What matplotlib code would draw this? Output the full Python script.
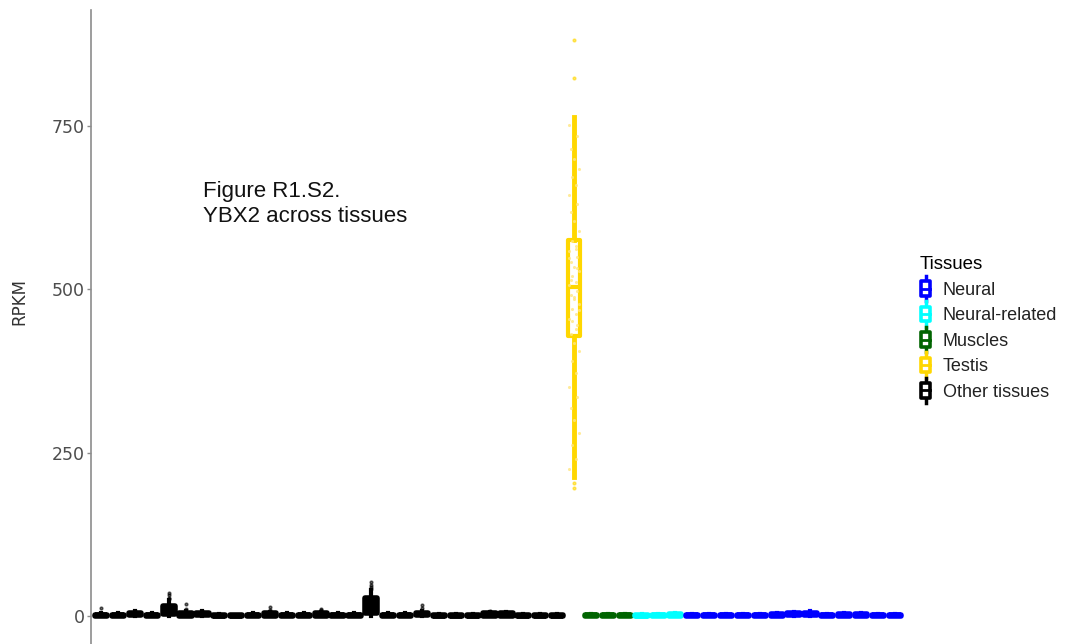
import numpy as np
import matplotlib.pyplot as plt
from matplotlib.legend_handler import HandlerBase
from matplotlib.lines import Line2D
from matplotlib.patches import Rectangle

# --- data (RPKM per tissue box) ---
group_names = ["Neural", "Neural-related", "Muscles", "Testis", "Other tissues"]
group_colors = ["#0000FF", "#00FFFF", "#006400", "#FFD700", "#000000"]

# order of boxes along x
groups = ["Other tissues"] * 28 + ["Testis"] + ["Muscles"] * 3 + ["Neural-related"] * 3 + ["Neural"] * 13

medians = [1, 1, 3, 1, 8, 2, 3, 0.5, 0, 1, 2, 1, 1, 2, 1, 1, 12, 1, 1, 3, 0.5, 0.5, 0.5, 2, 2, 0.5, 0.5, 0.5,
           504,
           1, 1, 1,
           0.5, 1, 1.5,
           1, 1, 1, 1, 1, 1.5, 2.5, 3, 1, 2, 1.5, 1, 1]
q1s = [0, 0, 1, 0, 3, 0.5, 1, 0, 0, 0, 0.5, 0, 0, 0.5, 0, 0, 5, 0, 0, 1, 0, 0, 0, 0.5, 0.5, 0, 0, 0,
       428,
       0, 0, 0,
       0, 0, 0.5,
       0, 0, 0, 0, 0, 0.5, 1, 1.5, 0, 0.5, 0.5, 0, 0]
q3s = [2, 2, 5, 2, 16, 4, 5, 1.5, 1, 2, 4, 2, 2, 4, 2, 2, 28, 2, 2, 5, 1.5, 1.5, 1.5, 4, 4, 1.5, 1.5, 1.5,
       576,
       2, 2, 2,
       1.5, 2, 3,
       2, 2, 2, 2, 2, 3, 4, 5, 2, 3.5, 3, 2, 2]
whis_hi = [4, 4, 7, 4, 24, 7, 7, 3, 2, 4, 6, 4, 4, 6, 4, 4, 40, 4, 4, 8, 3, 3, 3, 6, 6, 3, 3, 3,
           764,
           3, 3, 3,
           3, 3, 4,
           3, 3, 3, 3, 3, 4, 6, 7, 3, 5, 4, 3, 3]
whis_lo = [0] * 28 + [213] + [0] * 19

outliers = {0: [12], 2: [8], 4: [26, 28, 32, 35], 5: [10, 18], 6: [8], 10: [9, 14],
            13: [9, 10], 16: [42, 45, 48, 52], 19: [12, 17], 23: [7], 24: [6],
            28: [196, 203, 823, 882]}

# individual testis samples (jittered on top of the box)
testis_points = [225, 240, 262, 280, 300, 318, 335, 350, 372, 390, 405, 418, 432, 445, 455,
                 462, 470, 478, 485, 492, 498, 506, 512, 520, 528, 535, 542, 550, 558, 566,
                 574, 590, 605, 618, 630, 645, 660, 672, 685, 700, 715, 735, 752,
                 440, 452, 468, 488, 515, 532, 548, 562]

color_of = dict(zip(group_names, group_colors))

fig = plt.figure(figsize=(10.81, 6.44), dpi=100)
ax = fig.add_axes([91 / 1081, 0, (905 - 91) / 1081, 634 / 644])

positions = np.arange(1, len(groups) + 1)
for i, (pos, g) in enumerate(zip(positions, groups)):
    c = color_of[g]
    fill = "white" if g == "Testis" else c
    lw = 3 if g == "Testis" else 4
    st = [dict(med=medians[i], q1=q1s[i], q3=q3s[i], whislo=whis_lo[i], whishi=whis_hi[i],
               fliers=outliers.get(i, []))]
    ax.bxp(st, positions=[pos], widths=0.72, showcaps=False, patch_artist=True,
           boxprops=dict(facecolor=fill, edgecolor=c, linewidth=lw, joinstyle="round"),
           medianprops=dict(color=c, linewidth=lw),
           whiskerprops=dict(color=c, linewidth=3.5 if g == "Testis" else 3),
           flierprops=dict(marker="o", markersize=2, markerfacecolor=c, markeredgecolor=c, alpha=0.6))

# jittered testis samples
testis_pos = positions[groups.index("Testis")]
offsets = [-0.3, 0.1, -0.1, 0.3, 0.0, -0.2, 0.2]
tx = [testis_pos + offsets[k % len(offsets)] for k in range(len(testis_points))]
ax.scatter(tx, testis_points, s=5, color="#FFE680", alpha=0.8, linewidths=0, zorder=4)

ax.set_xlim(0.4, len(groups) + 0.6)
ax.set_ylim(-42.9, 927.7)
ax.set_xticks([])
ax.set_yticks([0, 250, 500, 750])
ax.tick_params(axis="y", colors="#8c8c8c", labelcolor="#4d4d4d", labelsize=12.5, length=3, width=1, pad=1.5)
for s in ["top", "right", "bottom"]:
    ax.spines[s].set_visible(False)
ax.spines["left"].set_color("#8c8c8c")
ax.spines["left"].set_linewidth(1.2)
ax.set_ylabel("RPKM", fontsize=12, color="#333333")
ax.yaxis.set_label_coords(-0.077, 0.54)

fig.text(203 / 1081, 1 - 204 / 644, "Figure R1.S2.\nYBX2 across tissues", fontsize=16,
         family="Liberation Sans", ha="left", va="center", linespacing=1.3, color="#111111")


class BoxKey(HandlerBase):
    def create_artists(self, legend, orig_handle, xd, yd, w, h, fontsize, trans):
        c = orig_handle.get_color()
        x0, y0 = -xd, -yd
        cx = x0 + w / 2
        bw = w * 0.75
        return [
            Line2D([cx, cx], [y0 - h * 0.3, y0 + h * 1.3], color=c, lw=2.5, transform=trans),
            Rectangle((cx - bw / 2, y0 + h * 0.05), bw, h * 0.9, facecolor="white",
                      edgecolor=c, lw=2.6, joinstyle="round", transform=trans),
            Line2D([cx - bw / 2, cx + bw / 2], [y0 + h / 2] * 2, color=c, lw=2, transform=trans),
        ]


handles = [Line2D([], [], color=c) for c in group_colors]
leg = fig.legend(handles, group_names, loc="upper left", bbox_to_anchor=(903 / 1081, 1 - 240 / 644),
                 frameon=False, title="Tissues", handler_map={Line2D: BoxKey()},
                 handlelength=0.7, handleheight=1.0, handletextpad=0.6, labelspacing=0.4,
                 prop=dict(family="Liberation Sans", size=13),
                 title_fontproperties=dict(family="Liberation Sans", size=13.5))
leg._legend_box.align = "left"
for t in leg.get_texts():
    t.set_color("#222222")

fig.savefig("out.png", dpi=100)
